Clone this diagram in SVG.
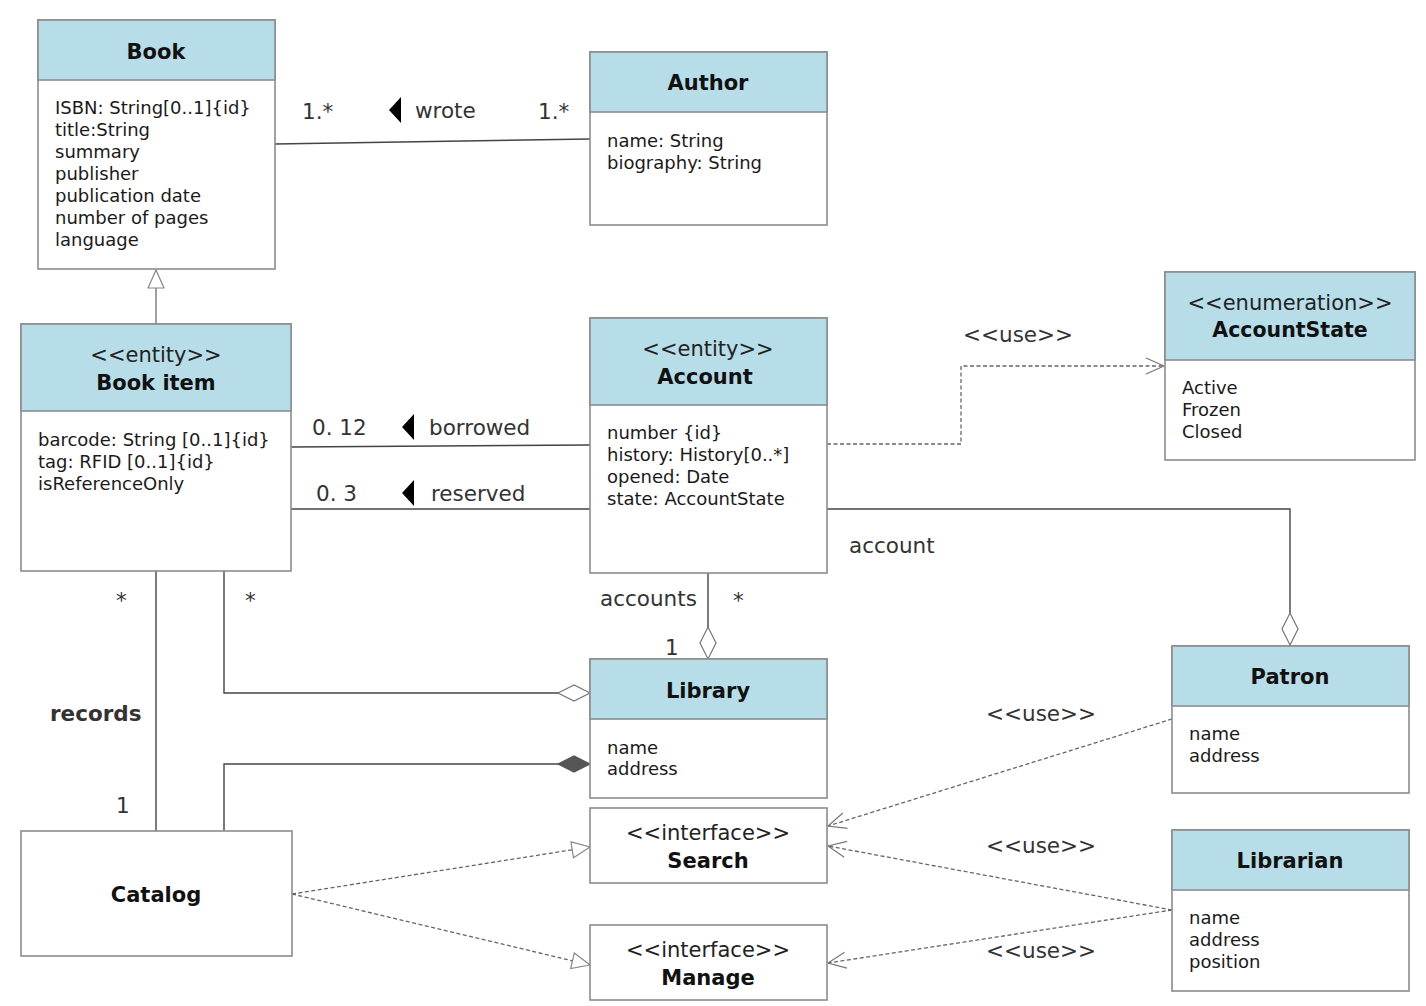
<svg xmlns="http://www.w3.org/2000/svg" width="1426" height="1006" viewBox="0 0 1426 1006">
<defs>
<style>
text{font-family:"DejaVu Sans","Liberation Sans",sans-serif;fill:#111}
.box{fill:#fff;stroke:#8c8c8c;stroke-width:1.6}
.hdr{fill:#b7dde8;stroke:#8c8c8c;stroke-width:1.6}
.ttl{font-size:21px;font-weight:bold;text-anchor:middle}
.st{font-size:21px;text-anchor:middle;fill:#222}
.att{font-size:18px;fill:#1a1a1a}
.lbl{font-size:21.5px;fill:#333}
.ln{fill:none;stroke:#444;stroke-width:1.4}
.dash{fill:none;stroke:#666;stroke-width:1.3;stroke-dasharray:4 2.5}
.dir{fill:#000}
</style>
<marker id="odia" markerUnits="userSpaceOnUse" markerWidth="34" markerHeight="18" refX="32" refY="8" orient="auto" overflow="visible">
<path d="M0,8 L16,0 L32,8 L16,16 Z" fill="#fff" stroke="#777" stroke-width="1.2"/>
</marker>
<marker id="fdia" markerUnits="userSpaceOnUse" markerWidth="34" markerHeight="18" refX="32" refY="8" orient="auto" overflow="visible">
<path d="M0,8 L16,0 L32,8 L16,16 Z" fill="#555" stroke="#555" stroke-width="1.2"/>
</marker>
<marker id="tri" markerUnits="userSpaceOnUse" markerWidth="20" markerHeight="18" refX="18" refY="8" orient="auto" overflow="visible">
<path d="M0,0 L18,8 L0,16 Z" fill="#fff" stroke="#888" stroke-width="1.2"/>
</marker>
<marker id="open" markerUnits="userSpaceOnUse" markerWidth="20" markerHeight="18" refX="18" refY="8" orient="auto" overflow="visible">
<path d="M0,0 L18,8 L0,16" fill="none" stroke="#777" stroke-width="1.2"/>
</marker>
</defs>
<rect width="1426" height="1006" fill="#fff"/>

<g id="connectors">
<!-- Book - Author -->
<line class="ln" x1="275" y1="144" x2="590" y2="139"/>
<text class="lbl" x="302" y="119">1.*</text>
<path class="dir" d="M389,110 L401,97 L401,123 Z"/>
<text class="lbl" x="415" y="118">wrote</text>
<text class="lbl" x="538" y="119">1.*</text>
<!-- Generalization -->
<line class="ln" x1="156" y1="324" x2="156" y2="270" marker-end="url(#tri)" style="stroke:#777"/>
<!-- borrowed -->
<line class="ln" x1="291" y1="447" x2="590" y2="445"/>
<text class="lbl" x="312" y="435">0. 12</text>
<path class="dir" d="M402,427 L414,414 L414,440 Z"/>
<text class="lbl" x="429" y="435">borrowed</text>
<!-- reserved -->
<line class="ln" x1="291" y1="509" x2="590" y2="509"/>
<text class="lbl" x="316" y="501">0. 3</text>
<path class="dir" d="M402,493 L414,480 L414,506 Z"/>
<text class="lbl" x="431" y="501">reserved</text>
<!-- Account use AccountState -->
<polyline class="dash" points="827,444 961,444 961,366 1164,366" marker-end="url(#open)"/>
<text class="lbl" x="963" y="342">&lt;&lt;use&gt;&gt;</text>
<!-- Account - Patron -->
<polyline class="ln" points="827,509 1290,509 1290,645" marker-end="url(#odia)"/>
<text class="lbl" x="849" y="553">account</text>
<!-- Account - Library -->
<line class="ln" x1="708" y1="573" x2="708" y2="659" marker-end="url(#odia)"/>
<text class="lbl" x="600" y="606">accounts</text>
<text class="lbl" x="733" y="608">*</text>
<text class="lbl" x="665" y="655">1</text>
<!-- Book item - Library -->
<polyline class="ln" points="224,571 224,693 590,693" marker-end="url(#odia)"/>
<text class="lbl" x="245" y="608">*</text>
<!-- Book item - Catalog -->
<line class="ln" x1="156" y1="571" x2="156" y2="831"/>
<text class="lbl" x="116" y="608">*</text>
<text class="lbl" x="116" y="813">1</text>
<text class="lbl" x="50" y="721" style="font-weight:bold">records</text>
<!-- Catalog - Library composition -->
<polyline class="ln" points="224,831 224,764 590,764" marker-end="url(#fdia)"/>
<!-- Catalog realizes Search / Manage -->
<line class="dash" x1="292" y1="894" x2="590" y2="847" marker-end="url(#tri)"/>
<line class="dash" x1="292" y1="894" x2="590" y2="965" marker-end="url(#tri)"/>
<!-- Patron use Search -->
<line class="dash" x1="1172" y1="719" x2="828" y2="826" marker-end="url(#open)"/>
<text class="lbl" x="986" y="721">&lt;&lt;use&gt;&gt;</text>
<!-- Librarian use Search -->
<line class="dash" x1="1172" y1="910" x2="828" y2="846" marker-end="url(#open)"/>
<text class="lbl" x="986" y="853">&lt;&lt;use&gt;&gt;</text>
<!-- Librarian use Manage -->
<line class="dash" x1="1172" y1="910" x2="828" y2="963" marker-end="url(#open)"/>
<text class="lbl" x="986" y="958">&lt;&lt;use&gt;&gt;</text>
</g>

<g id="book">
<rect class="box" x="38" y="20" width="237" height="249"/>
<rect class="hdr" x="38" y="20" width="237" height="60"/>
<text class="ttl" x="156" y="59">Book</text>
<text class="att" x="55" y="114">ISBN: String[0..1]{id}</text>
<text class="att" x="55" y="136">title:String</text>
<text class="att" x="55" y="158">summary</text>
<text class="att" x="55" y="180">publisher</text>
<text class="att" x="55" y="202">publication date</text>
<text class="att" x="55" y="224">number of pages</text>
<text class="att" x="55" y="246">language</text>
</g>

<g id="author">
<rect class="box" x="590" y="52" width="237" height="173"/>
<rect class="hdr" x="590" y="52" width="237" height="60"/>
<text class="ttl" x="708" y="90">Author</text>
<text class="att" x="607" y="147">name: String</text>
<text class="att" x="607" y="169">biography: String</text>
</g>

<g id="bookitem">
<rect class="box" x="21" y="324" width="270" height="247"/>
<rect class="hdr" x="21" y="324" width="270" height="87"/>
<text class="st" x="156" y="362">&lt;&lt;entity&gt;&gt;</text>
<text class="ttl" x="156" y="390">Book item</text>
<text class="att" x="38" y="446">barcode: String [0..1]{id}</text>
<text class="att" x="38" y="468">tag: RFID [0..1]{id}</text>
<text class="att" x="38" y="490">isReferenceOnly</text>
</g>

<g id="account">
<rect class="box" x="590" y="318" width="237" height="255"/>
<rect class="hdr" x="590" y="318" width="237" height="87"/>
<text class="st" x="708" y="356">&lt;&lt;entity&gt;&gt;</text>
<text class="ttl" x="705" y="384">Account</text>
<text class="att" x="607" y="439">number {id}</text>
<text class="att" x="607" y="461">history: History[0..*]</text>
<text class="att" x="607" y="483">opened: Date</text>
<text class="att" x="607" y="505">state: AccountState</text>
</g>

<g id="accountstate">
<rect class="box" x="1165" y="272" width="250" height="188"/>
<rect class="hdr" x="1165" y="272" width="250" height="88"/>
<text class="st" x="1290" y="310">&lt;&lt;enumeration&gt;&gt;</text>
<text class="ttl" x="1290" y="337" style="font-size:20.5px">AccountState</text>
<text class="att" x="1182" y="394">Active</text>
<text class="att" x="1182" y="416">Frozen</text>
<text class="att" x="1182" y="438">Closed</text>
</g>

<g id="library">
<rect class="box" x="590" y="659" width="237" height="139"/>
<rect class="hdr" x="590" y="659" width="237" height="60"/>
<text class="ttl" x="708" y="698">Library</text>
<text class="att" x="607" y="754">name</text>
<text class="att" x="607" y="775">address</text>
</g>

<g id="patron">
<rect class="box" x="1172" y="646" width="237" height="147"/>
<rect class="hdr" x="1172" y="646" width="237" height="60"/>
<text class="ttl" x="1290" y="684">Patron</text>
<text class="att" x="1189" y="740">name</text>
<text class="att" x="1189" y="762">address</text>
</g>

<g id="librarian">
<rect class="box" x="1172" y="830" width="237" height="161"/>
<rect class="hdr" x="1172" y="830" width="237" height="60"/>
<text class="ttl" x="1290" y="868">Librarian</text>
<text class="att" x="1189" y="924">name</text>
<text class="att" x="1189" y="946">address</text>
<text class="att" x="1189" y="968">position</text>
</g>

<g id="catalog">
<rect class="box" x="21" y="831" width="271" height="125"/>
<text class="ttl" x="156" y="902">Catalog</text>
</g>

<g id="search">
<rect class="box" x="590" y="808" width="237" height="75"/>
<text class="st" x="708" y="840">&lt;&lt;interface&gt;&gt;</text>
<text class="ttl" x="708" y="868">Search</text>
</g>

<g id="manage">
<rect class="box" x="590" y="925" width="237" height="75"/>
<text class="st" x="708" y="957">&lt;&lt;interface&gt;&gt;</text>
<text class="ttl" x="708" y="985">Manage</text>
</g>
</svg>
